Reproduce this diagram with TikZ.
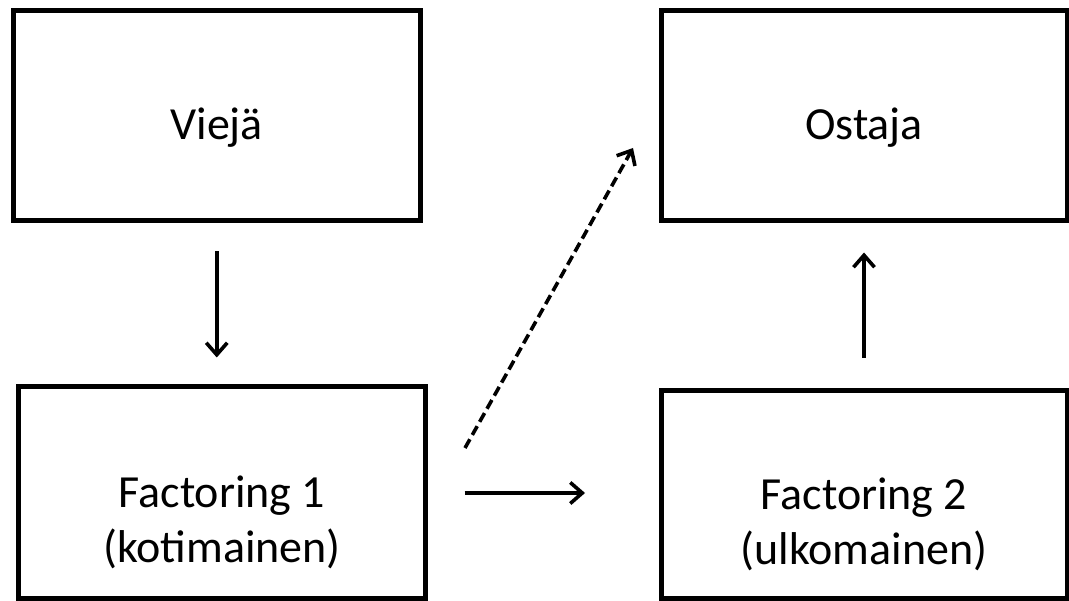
\documentclass[tikz,border=0pt]{standalone}
\usepackage{fontspec}
\setmainfont{Carlito}
\usetikzlibrary{arrows.meta,calc}
\begin{document}
\begin{tikzpicture}[x=1pt,y=-1pt,
  box/.style={draw=black,line width=5pt,minimum width=#1,inner sep=0pt,outer sep=0pt},
  lbl/.style={font=\fontsize{46}{55}\selectfont,align=center,inner sep=0pt},
  arr/.style={line width=3.6pt,-{Straight Barb[length=12pt,width=21pt]}},
  darr/.style={arr,dash pattern=on 10pt off 5pt}]
\useasboundingbox (0,0) rectangle (1069,601);
\node[box=406.5pt,minimum height=210pt] (v) at (216.75,115.5) {};
\node[box=406pt,minimum height=210pt] (o) at (864,115.5) {};
\node[box=407pt,minimum height=212pt] (f1) at (222,492.5) {};
\node[box=406pt,minimum height=207pt] (f2) at (864,494.5) {};
\node[lbl] (tv) at ($(v.center)+(0,12)$) {Viejä};
\node[lbl] (to) at ($(o.center)+(0,12)$) {Ostaja};
\node[lbl] (tf1) at ($(f1.center)+(0,30)$) {Factoring 1\\(kotimainen)};
\node[lbl] (tf2) at ($(f2.center)+(0,30)$) {Factoring 2\\(ulkomainen)};
\coordinate (ds) at (465,448);
\coordinate (de) at (633,148);
\draw[arr,shorten <=31pt,shorten >=29pt] (v.south) -- (v.south |- f1.north);
\draw[arr,shorten <=33pt,shorten >=32pt] (f2.north) -- (f2.north |- o.south);
\draw[arr,shorten <=39pt,shorten >=76pt] (f1.east |- 0,493) -- (f2.west |- 0,493);
\draw[darr] (ds) -- (de);
\end{tikzpicture}
\end{document}
